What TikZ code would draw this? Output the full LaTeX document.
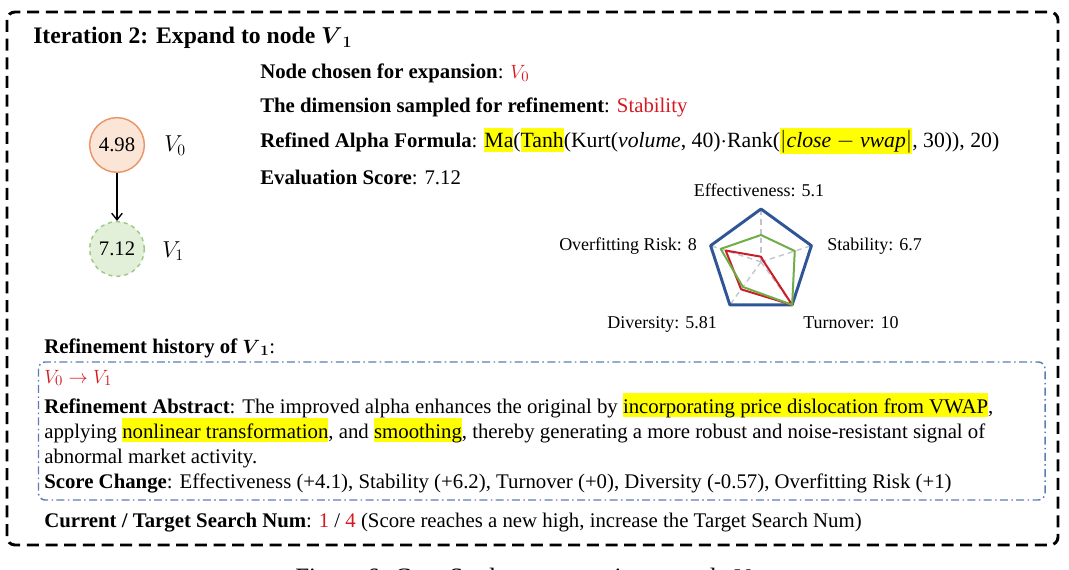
\documentclass[tikz,border=0pt]{standalone}
\usepackage{amsmath,amssymb}
\usepackage{fontspec}
\setmainfont{Liberation Serif}
\usetikzlibrary{arrows.meta}
\definecolor{orangeA}{RGB}{251,229,214}
\definecolor{orangeB}{RGB}{234,150,105}
\definecolor{greenA}{RGB}{226,240,217}
\definecolor{greenB}{RGB}{160,200,135}
\definecolor{redT}{RGB}{212,25,32}
\definecolor{blueR}{RGB}{47,85,151}
\definecolor{greenR}{RGB}{112,173,71}
\definecolor{redR}{RGB}{200,30,40}
\definecolor{grayR}{RGB}{195,195,205}
\definecolor{blueD}{RGB}{90,125,180}
\definecolor{hlyellow}{RGB}{255,255,0}
\newcommand{\hlY}[1]{{\setlength{\fboxsep}{0pt}\colorbox{hlyellow}{\rule[-3pt]{0pt}{18pt}#1}}}
\tikzset{
	circA/.style={
		circle, draw=orangeB, fill=orangeA, line width=1.1pt,
		minimum size=41pt, inner sep=0pt,
		font={\fontsize{15.5}{18}\selectfont}
	},
	circB/.style={circA, draw=greenB, fill=greenA, dashed},
	txtA/.style={anchor=base west, inner sep=0pt, font={\fontsize{15.6}{18.75}\selectfont}},
	lblA/.style={anchor=base, inner sep=0pt, font={\fontsize{13.5}{15}\selectfont}},
	>={Straight Barb[length=5pt,width=8pt]},
}

\begin{document}
\begin{tikzpicture}[
x=0.75pt, y=-0.75pt,
level distance=78pt,
edge from parent/.style={draw, ->, line width=1pt},
]
\useasboundingbox (0,0) rectangle (1069,570);
% outer frame
\draw[line width=2.2pt, dash pattern=on 9pt off 5pt, rounded corners=6pt] (7,12) rectangle (1058,545);
\node[txtA, font={\fontsize{17.75}{20}\selectfont\bfseries}] (title) at (33,44) {Iteration 2: Expand to node $\boldsymbol{V}_{\boldsymbol{1}}$};

% tree
\node [circA] (root) at (117,145) {4.98}
child {
	node [circB] {7.12}
};
\node[txtA, font={\fontsize{18.5}{20}\selectfont}] (lbl0) at (164,152) {$V_0$};
\node[txtA, font={\fontsize{18.5}{20}\selectfont}] (lbl1) at (162,257) {$V_1$};

% info lines
\node[txtA] (chosen) at (260,79) {\textbf{Node chosen for expansion}: \textcolor{redT}{$V_0$}};
\node[txtA] (dim) at (260,113) {\textbf{The dimension sampled for refinement}: \textcolor{redT}{Stability}};
\node[txtA] (formula) at (260,148) {\textbf{Refined Alpha Formula}: {\fontsize{16.3}{18.75}\selectfont\hlY{Ma}(\hlY{Tanh}(Kurt(\textit{volume}, 40)$\cdot$Rank(\hlY{$|$\textit{close} $-$ \textit{vwap}$|$}, 30)), 20)}};
\node[txtA] (score) at (260,185) {\textbf{Evaluation Score}: 7.12};

% radar
\begin{scope}[shift={(761,262)}, x=0.75pt, y=0.75pt]
\foreach \a in {90,18,-54,-126,162}
	\draw[grayR, line width=1pt, dash pattern=on 4pt off 3pt] (0,0) -- (\a:53);
\draw[blueR, line width=2.2pt, line join=round] (90:53) -- (18:53) -- (-54:53) -- (-126:53) -- (162:53) -- cycle;
\draw[redR, line width=1.5pt, line join=round] (90:5.3) -- (18:2.65) -- (-54:53) -- (-126:33.8) -- (162:37.1) -- cycle;
\draw[greenR, line width=1.5pt, line join=round] (90:27) -- (18:35.5) -- (-54:53) -- (-126:30.8) -- (162:42.4) -- cycle;
\end{scope}
\node[lblA] (effe) at (759,197) {Effectiveness: 5.1};
\node[lblA, anchor=base east] (over) at (697,250) {Overfitting Risk: 8};
\node[lblA, anchor=base west] (stab) at (827,250) {Stability: 6.7};
\node[lblA, anchor=base west] (dive) at (607,328) {Diversity: 5.81};
\node[lblA, anchor=base west] (turn) at (803,328) {Turnover: 10};

% history
\node[txtA] (hist) at (44,353) {\textbf{Refinement history of $\boldsymbol{V}_{\boldsymbol{1}}$}:};
\draw[blueD, line width=1.1pt, dash pattern=on 6pt off 2.5pt on 1.2pt off 2.5pt, rounded corners=5pt] (38.5,362) rectangle (1045,500);
\node[txtA] (path) at (44,383) {\textcolor{redT}{$V_0\rightarrow V_1$}};
\node[txtA] (abs1) at (44,413) {\textbf{Refinement Abstract}: The improved alpha enhances the original by \hlY{incorporating price dislocation from VWAP},};
\node[txtA] (abs2) at (44,438) {applying \hlY{nonlinear transformation}, and \hlY{smoothing}, thereby generating a more robust and noise-resistant signal of};
\node[txtA] (abs3) at (44,463) {abnormal market activity.};
\node[txtA] (change) at (44,488) {\textbf{Score Change}: Effectiveness (+4.1), Stability (+6.2), Turnover (+0), Diversity (-0.57), Overfitting Risk (+1)};
\node[txtA] (search) at (44,527) {\textbf{Current / Target Search Num}: \textcolor{redT}{1} / \textcolor{redT}{4} (Score reaches a new high, increase the Target Search Num)};

% caption
\node[txtA, font={\fontsize{18.75}{22}\selectfont}] (caption) at (295,585) {Figure 6: Case Study on expansion to node $V_1$};
\end{tikzpicture}
\end{document}
